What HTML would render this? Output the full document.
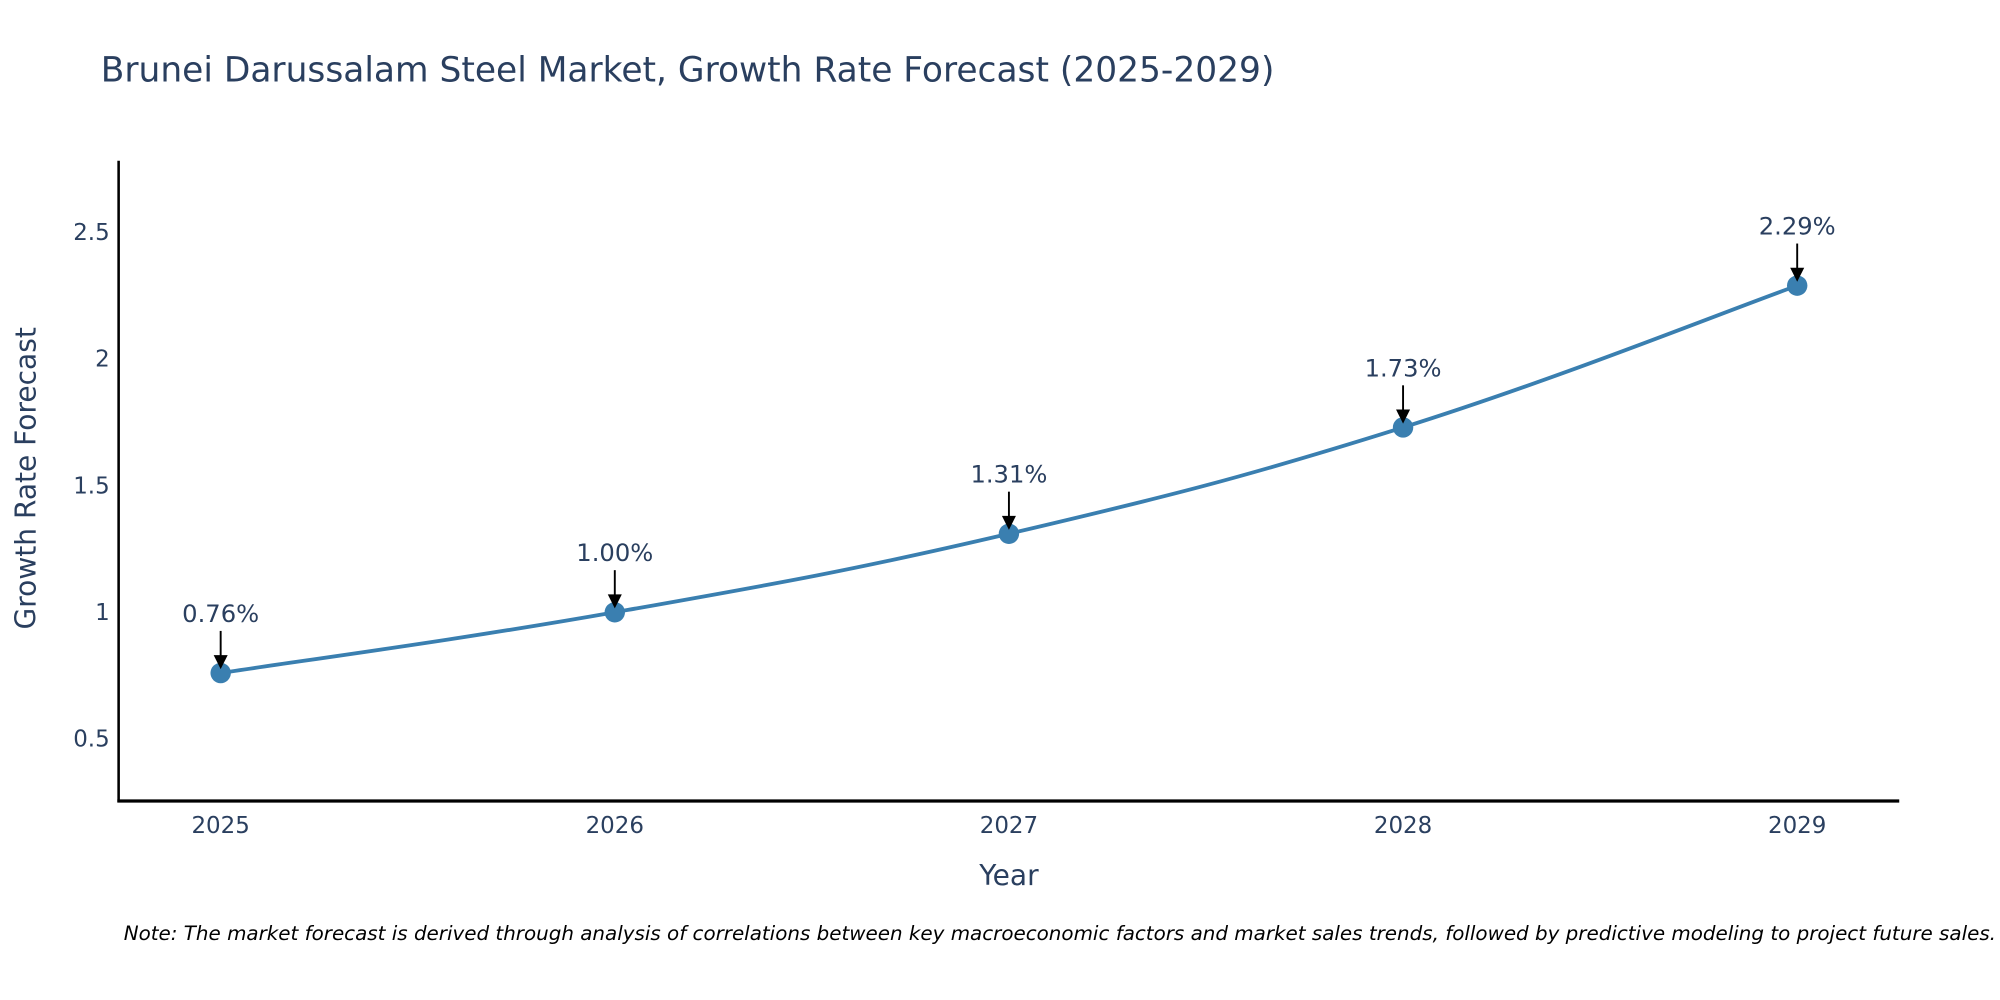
<!DOCTYPE html>
<html><head><meta charset="utf-8"><style>
html,body{margin:0;padding:0;background:#fff;}
svg{display:block;font-family:"DejaVu Sans","Liberation Sans",sans-serif;}
</style></head><body>
<svg id="chart" width="2000" height="1000" viewBox="0 0 1568 784" xmlns="http://www.w3.org/2000/svg">
<text x="79" y="64" font-size="27" fill="#2a3f5f">Brunei Darussalam Steel Market, Growth Rate Forecast (2025-2029)</text>
<line x1="93" y1="126" x2="93" y2="629" stroke="#000" stroke-width="2"/>
<line x1="92" y1="628" x2="1489" y2="628" stroke="#000" stroke-width="2.5"/>
<text transform="translate(28,375) rotate(-90)" text-anchor="middle" font-size="22" fill="#2a3f5f">Growth Rate Forecast</text>
<text x="791" y="694" text-anchor="middle" font-size="22" fill="#2a3f5f">Year</text>
<g id="ticks"></g>
<path id="line" fill="none" stroke="#3a7fb0" stroke-width="3"/>
<g id="marks"></g>
<text x="97" y="737" font-size="15.6" font-style="italic" fill="#000">Note: The market forecast is derived through analysis of correlations between key macroeconomic factors and market sales trends, followed by predictive modeling to project future sales.</text>
</svg>
<script>
const years = [2025, 2026, 2027, 2028, 2029];
const values = [0.76, 1.00, 1.31, 1.73, 2.29];
const labels = ["0.76%", "1.00%", "1.31%", "1.73%", "2.29%"];
const yTicks = [0.5, 1, 1.5, 2, 2.5];
const yTickLabels = ["0.5", "1", "1.5", "2", "2.5"];

const NS = "http://www.w3.org/2000/svg";
const xs = v => 173 + (v - years[0]) * 309;
const ys = v => 480 - (v - 1) * 198.5;
function mk(tag, attrs, parent){const e=document.createElementNS(NS,tag);for(const k in attrs)e.setAttribute(k,attrs[k]);parent.appendChild(e);return e;}
const ticks=document.getElementById('ticks'), marks=document.getElementById('marks');
yTicks.forEach((t,i)=>{
  const e=mk('text',{x:86,y:ys(t)+6,'text-anchor':'end','font-size':18,fill:'#2a3f5f'},ticks);
  
  
  e.textContent=yTickLabels[i];
});
years.forEach(y=>{
  const e=mk('text',{x:xs(y),y:653,'text-anchor':'middle','font-size':18,fill:'#2a3f5f'},ticks);
  
  
  e.textContent=y;
});
const P=years.map((y,i)=>[xs(y),ys(values[i])]);
let d=`M${P[0][0]},${P[0][1]}`;
for(let i=0;i<P.length-1;i++){
  const p0=P[Math.max(0,i-1)],p1=P[i],p2=P[i+1],p3=P[Math.min(P.length-1,i+2)];
  const t=0.2;
  const c1=[p1[0]+(p2[0]-p0[0])*t,p1[1]+(p2[1]-p0[1])*t];
  const c2=[p2[0]-(p3[0]-p1[0])*t,p2[1]-(p3[1]-p1[1])*t];
  d+=` C${c1[0]},${c1[1]} ${c2[0]},${c2[1]} ${p2[0]},${p2[1]}`;
}
document.getElementById('line').setAttribute('d',d);
P.forEach((p,i)=>{
  const c=mk('circle',{cx:p[0],cy:p[1],r:8,fill:'#3a7fb0'},marks);
  
  
  const l=mk('line',{x1:p[0],y1:p[1]-33,x2:p[0],y2:p[1]-12,stroke:'#000','stroke-width':1.5},marks);
  
  
  const a=mk('polygon',{points:`${p[0]-5.5},${p[1]-14} ${p[0]+5.5},${p[1]-14} ${p[0]},${p[1]-3}`,fill:'#000'},marks);
  
  
  const t=mk('text',{x:p[0],y:p[1]-40,'text-anchor':'middle','font-size':19,fill:'#2a3f5f'},marks);
  
  
  t.textContent=labels[i];
});
</script>
</body></html>
